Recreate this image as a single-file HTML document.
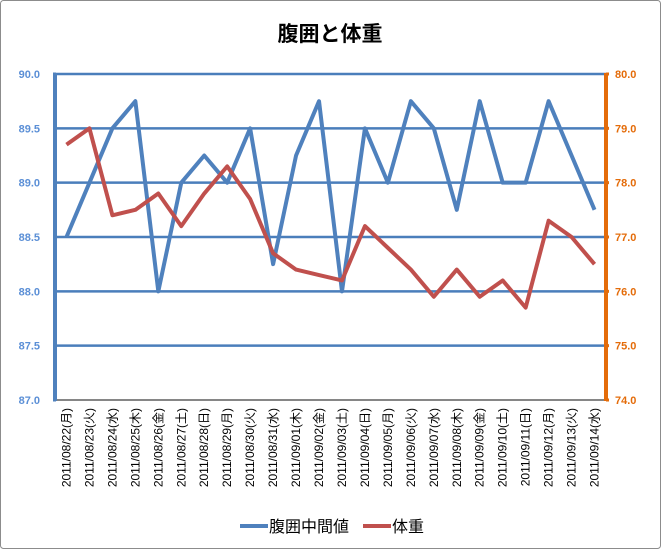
<!DOCTYPE html>
<html><head><meta charset="utf-8"><style>
body{margin:0;background:#fff;}
svg{display:block;font-family:"Liberation Sans","Noto Sans CJK JP",sans-serif;}
</style></head><body>
<svg id="chart" width="661" height="549" viewBox="0 0 661 549">
<rect x="0.5" y="0.5" width="660" height="548" rx="3" fill="#fff" stroke="#8c8c8c" stroke-width="1"/>
<text x="330" y="41" text-anchor="middle" font-size="21" font-weight="bold" fill="#000">腹囲と体重</text>
<g id="grid"></g>
<g id="axes"></g>
<g id="series"></g>
<g id="legend">
<line x1="240" y1="526" x2="268" y2="526" stroke="#4f81bd" stroke-width="4"/>
<text x="269" y="532" font-size="16" fill="#000">腹囲中間値</text>
<line x1="363" y1="526" x2="391" y2="526" stroke="#c0504d" stroke-width="4"/>
<text x="392" y="532" font-size="16" fill="#000">体重</text>
</g>
</svg>
<script>
const categories=["2011/08/22(月)","2011/08/23(火)","2011/08/24(水)","2011/08/25(木)","2011/08/26(金)","2011/08/27(土)","2011/08/28(日)","2011/08/29(月)","2011/08/30(火)","2011/08/31(水)","2011/09/01(木)","2011/09/02(金)","2011/09/03(土)","2011/09/04(日)","2011/09/05(月)","2011/09/06(火)","2011/09/07(水)","2011/09/08(木)","2011/09/09(金)","2011/09/10(土)","2011/09/11(日)","2011/09/12(月)","2011/09/13(火)","2011/09/14(水)"];
const waist=[88.5,89.0,89.5,89.75,88.0,89.0,89.25,89.0,89.5,88.25,89.25,89.75,88.0,89.5,89.0,89.75,89.5,88.75,89.75,89.0,89.0,89.75,89.25,88.75];
const weight=[78.7,79.0,77.4,77.5,77.8,77.2,77.8,78.3,77.7,76.7,76.4,76.3,76.2,77.2,76.8,76.4,75.9,76.4,75.9,76.2,75.7,77.3,77.0,76.5];
const leftTicks=["87.0","87.5","88.0","88.5","89.0","89.5","90.0"];
const rightTicks=["74.0","75.0","76.0","77.0","78.0","79.0","80.0"];
const NS="http://www.w3.org/2000/svg";
const X0=55,X1=606,Y0=400,Y1=74;
const lMin=87,lMax=90,rMin=74,rMax=80;
const band=(X1-X0)/categories.length;
const xs=i=>X0+band*(i+0.5);
const yl=v=>Y0-(v-lMin)/(lMax-lMin)*(Y0-Y1);
const yr=v=>Y0-(v-rMin)/(rMax-rMin)*(Y0-Y1);
function mk(tag,attrs,parent){const e=document.createElementNS(NS,tag);for(const k in attrs)e.setAttribute(k,attrs[k]);parent.appendChild(e);return e;}
const grid=document.getElementById('grid'),axes=document.getElementById('axes'),series=document.getElementById('series');
leftTicks.forEach((t,i)=>{const y=yl(parseFloat(t));
 if(i>0){const g=mk('line',{x1:X0,x2:X1,y1:y,y2:y,stroke:'#4a7ebb','stroke-width':2.5},grid);
 
 }
 const tx=mk('text',{x:40,y:y+4,'text-anchor':'end','font-size':11,'font-weight':'bold',fill:'#5b8fd6'},axes);tx.textContent=t;
 
 
 const tk=mk('rect',{x:X0-2,y:y-1.5,width:3,height:3,fill:'#4f81bd'},axes);
 
 
});
rightTicks.forEach(t=>{const y=yr(parseFloat(t));
 const tx=mk('text',{x:615,y:y+4,'font-size':11,'font-weight':'bold',fill:'#e46c0a'},axes);tx.textContent=t;
 
 
 const tk=mk('rect',{x:X1,y:y-1.5,width:3,height:3,fill:'#e46c0a'},axes);
 
 
});
const xa=mk('line',{x1:X0,x2:X1,y1:Y0,y2:Y0,stroke:'#868686','stroke-width':2},axes);


const la=mk('line',{x1:X0,x2:X0,y1:Y1-1,y2:Y0+1,stroke:'#4f81bd','stroke-width':4},axes);


const ra=mk('line',{x1:X1,x2:X1,y1:Y1-1,y2:Y0+1,stroke:'#e46c0a','stroke-width':4},axes);


categories.forEach((c,i)=>{const x=xs(i)+4;
 const tx=mk('text',{x:0,y:0,'font-size':12,fill:'#000','text-anchor':'end',transform:`translate(${x},408) rotate(-90)`},axes);tx.textContent=c;
 
 
});
const p1=mk('polyline',{points:waist.map((v,i)=>xs(i)+','+yl(v)).join(' '),fill:'none',stroke:'#4f81bd','stroke-width':4,'stroke-linejoin':'round'},series);


const p2=mk('polyline',{points:weight.map((v,i)=>xs(i)+','+yr(v)).join(' '),fill:'none',stroke:'#c0504d','stroke-width':4,'stroke-linejoin':'round'},series);


</script>
</body></html>
